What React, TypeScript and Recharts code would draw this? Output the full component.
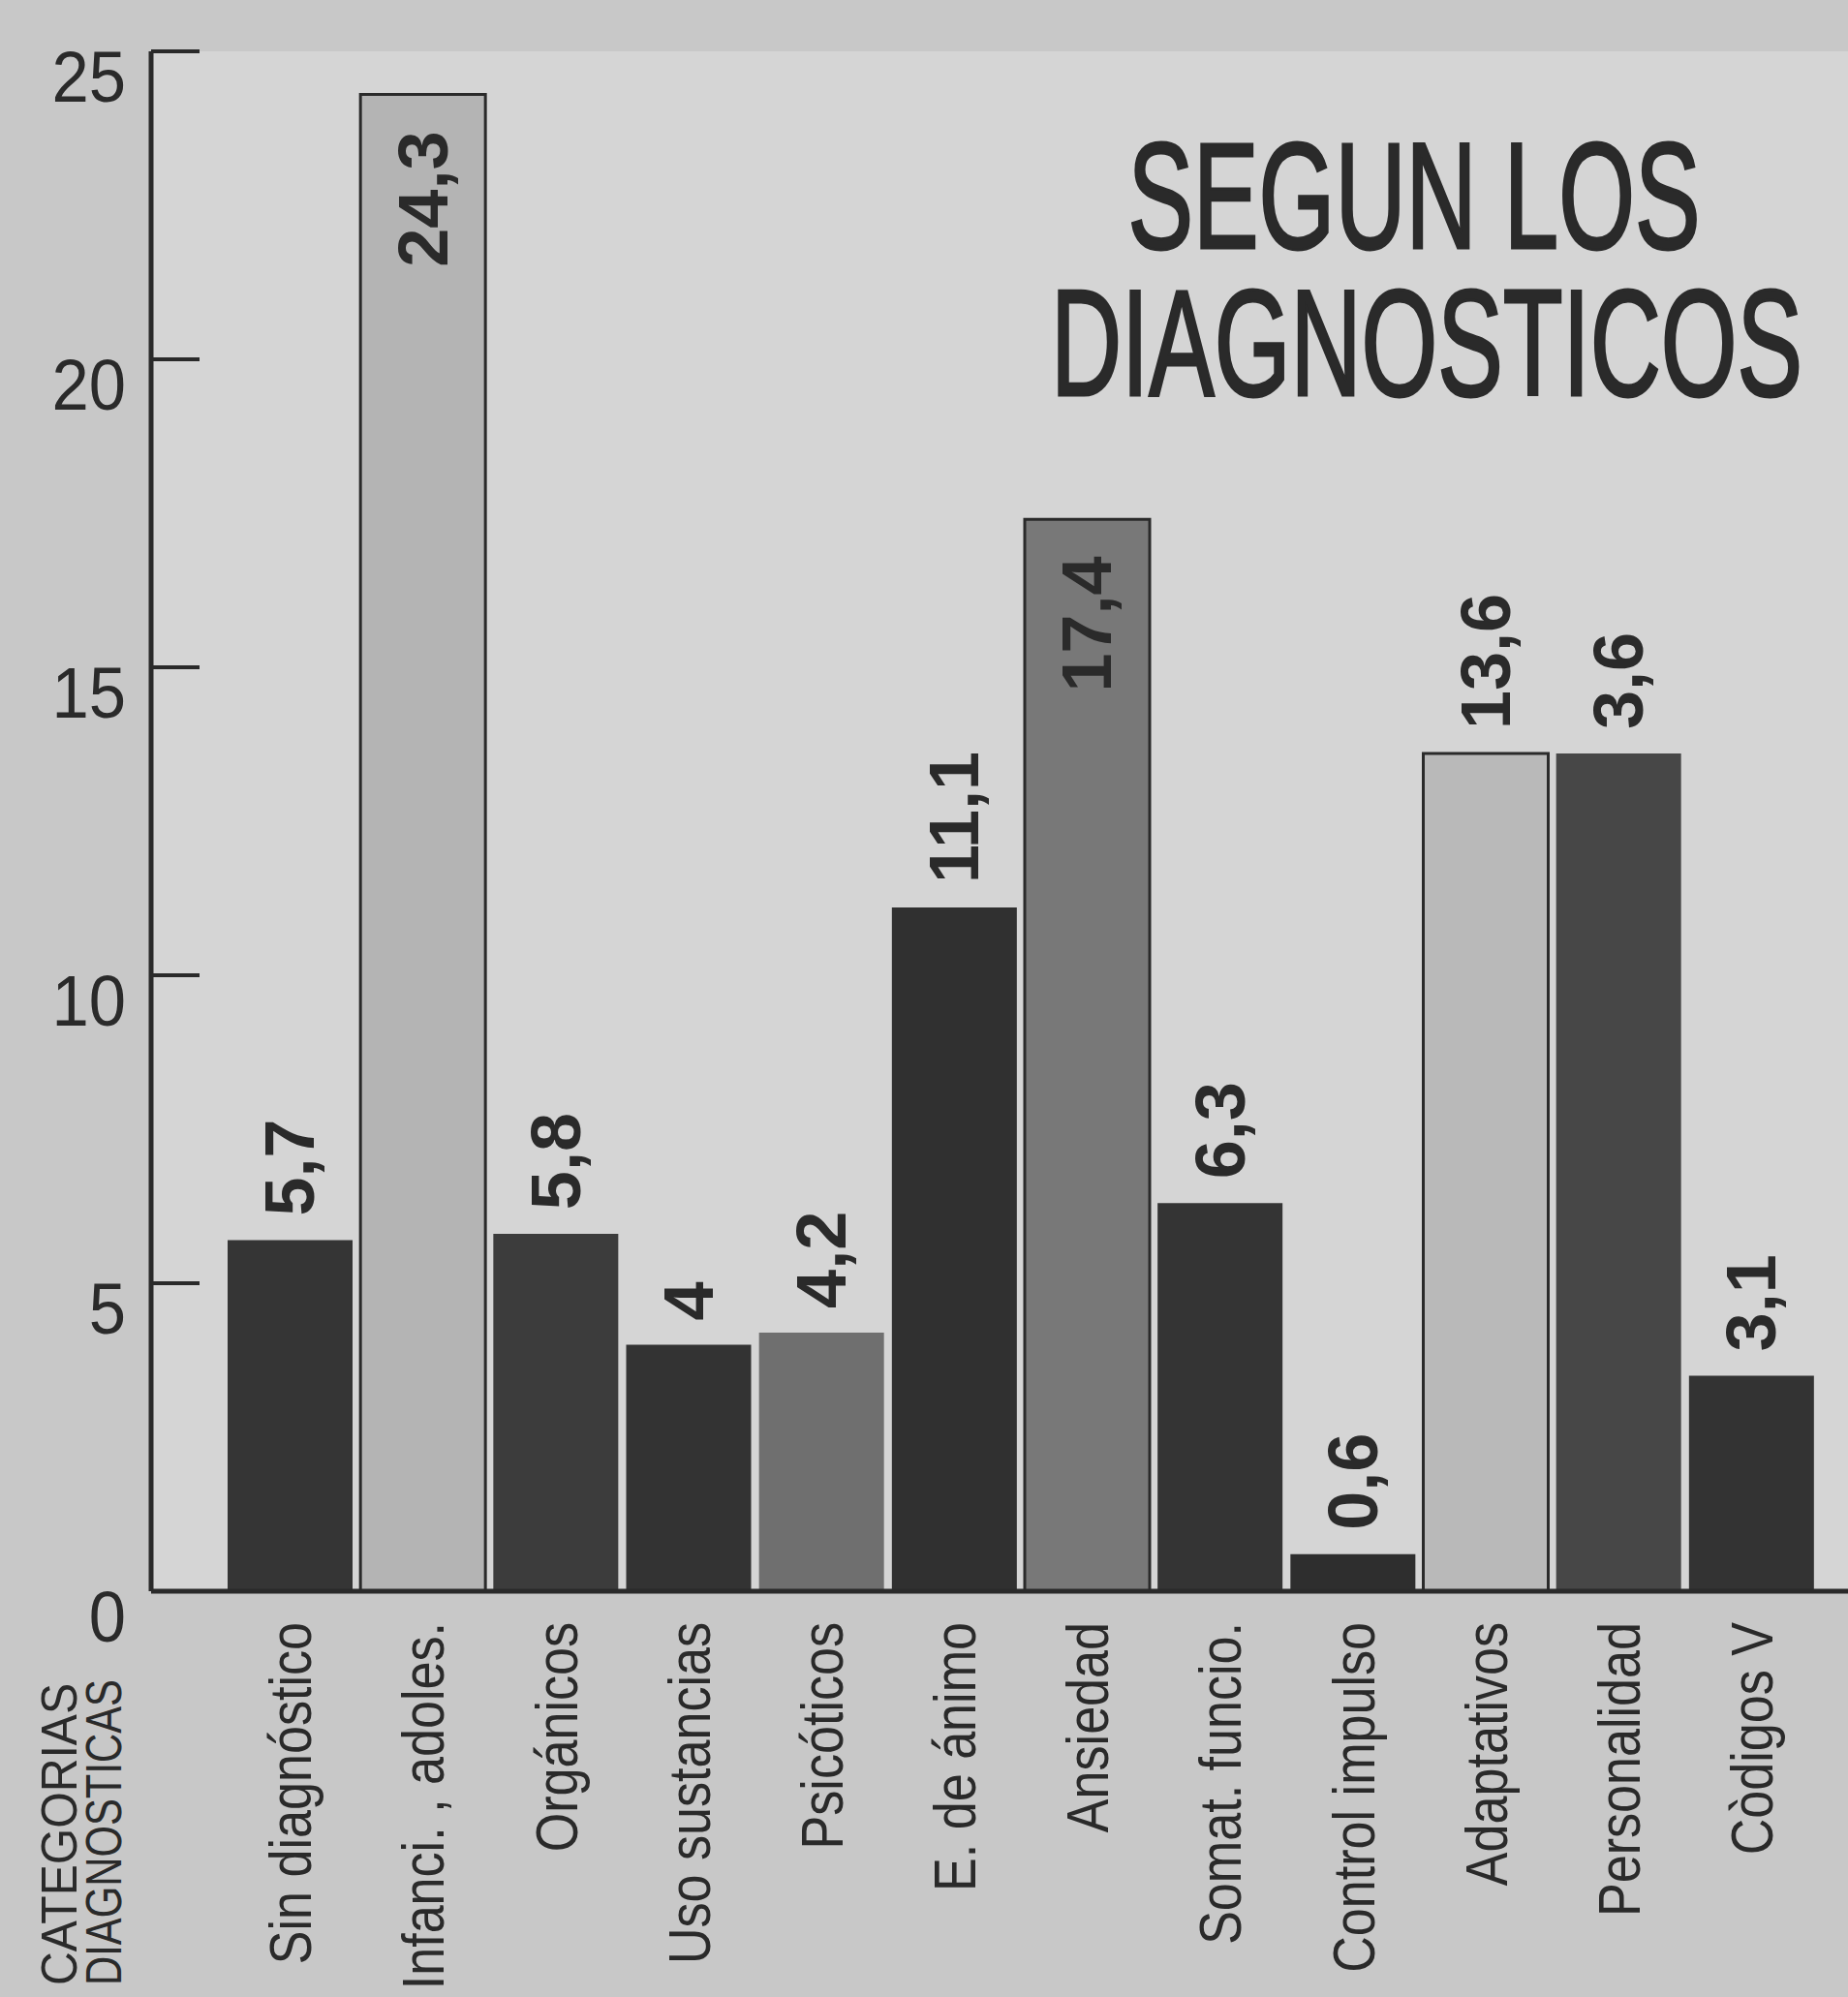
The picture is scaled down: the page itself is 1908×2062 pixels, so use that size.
import { Bar, BarChart, CartesianGrid, Cell, LabelList, XAxis, YAxis } from "recharts";

const W = 1908;
const H = 2062;
const INK = "#2a2a2a";
const SANS = "'Liberation Sans', Arial, sans-serif";

const CATEGORIES = [
  "Sin diagnóstico", "Infanci. , adoles.", "Orgánicos", "Uso sustancias", "Psicóticos",
  "E. de ánimo", "Ansiedad", "Somat. funcio.", "Control impulso", "Adaptativos",
  "Personalidad", "Còdigos V",
];
// bar heights as drawn (the printed labels of the last two bars differ from their heights)
const VALUES = [5.7, 24.3, 5.8, 4, 4.2, 11.1, 17.4, 6.3, 0.6, 13.6, 13.6, 3.5];
const LABELS = ["5,7", "24,3", "5,8", "4", "4,2", "11,1", "17,4", "6,3", "0,6", "13,6", "3,6", "3,1"];
const FILLS = [
  "#353535", "#b4b4b4", "#3c3c3c", "#333333", "#6f6f6f", "#303030",
  "#787878", "#343434", "#2e2e2e", "#b9b9b9", "#474747", "#333333",
];
const OUTLINED = [false, true, false, false, false, false, true, false, false, true, false, false];
const INSIDE = [false, true, false, false, false, false, true, false, false, false, false, false];
const Y_TICKS = [0, 5, 10, 15, 20, 25];

const data = CATEGORIES.map((name, i) => ({ name, value: VALUES[i], label: LABELS[i] }));

// no condensed face installed, so the narrow newspaper type is squeezed with scale()
function YTick(props: any) {
  const { x, y, payload } = props;
  const v = payload.value;
  return (
    <g>
      {v > 0 && <line x1={x} x2={x + 50} y1={y} y2={y} stroke={INK} strokeWidth={4} />}
      <text transform={`translate(${x - 26} ${y + 52}) scale(0.93 1)`} textAnchor="end"
            fontFamily={SANS} fontSize={74} fill={INK}>
        {v}
      </text>
    </g>
  );
}

function XTick(props: any) {
  const { x, y, payload } = props;
  return (
    <text transform={`translate(${x} ${y + 32}) rotate(-90) scale(0.84 1)`} textAnchor="end"
          dominantBaseline="central" fontFamily={SANS} fontSize={62} fill={INK}>
      {payload.value}
    </text>
  );
}

function ValueLabel(props: any) {
  const { x, y, width, index, value } = props;
  const cx = x + width / 2;
  const inside = INSIDE[index];
  const ty = inside ? y + 38 : y - 25;
  return (
    <text x={cx} y={ty} transform={`rotate(-90 ${cx} ${ty})`} textAnchor={inside ? "end" : "start"}
          dominantBaseline="central" fontFamily={SANS} fontWeight="bold" fontSize={72} fill={INK}>
      {value}
    </text>
  );
}

export default function App() {
  return (
    <div style={{ position: "relative", width: W, height: H, background: "#c8c8c8", overflow: "hidden" }}>
      <style>{"body{margin:0}"}</style>
      <BarChart width={W} height={H} data={data} barCategoryGap={4}
                margin={{ top: 53, right: 0, bottom: 0, left: 0 }}>
        <CartesianGrid fill="#d5d5d5" stroke="none" horizontal={false} vertical={false} />
        <XAxis dataKey="name" interval={0} padding={{ left: 75, right: 31 }}
               axisLine={{ stroke: INK, strokeWidth: 5 }} tickLine={false} tickSize={0} tickMargin={0}
               tick={XTick} height={H - 1643} />
        <YAxis domain={[0, 25]} ticks={Y_TICKS} width={156} interval={0}
               axisLine={{ stroke: INK, strokeWidth: 5 }} tickLine={false} tickSize={0} tickMargin={0}
               tick={YTick} />
        <Bar dataKey="value" isAnimationActive={false}>
          {data.map((d, i) => (
            <Cell key={d.name} fill={FILLS[i]} stroke={OUTLINED[i] ? INK : "none"} strokeWidth={OUTLINED[i] ? 3 : 0} />
          ))}
          <LabelList dataKey="label" content={ValueLabel} />
        </Bar>
      </BarChart>
      <svg width={W} height={H} style={{ position: "absolute", left: 0, top: 0, pointerEvents: "none" }}>
        <text x={1460} y={256} textAnchor="middle" fontFamily={SANS} fontSize={155} fill={INK}
              stroke={INK} strokeWidth={3} textLength={591} lengthAdjust="spacingAndGlyphs">SEGUN LOS</text>
        <text x={1473} y={408} textAnchor="middle" fontFamily={SANS} fontSize={155} fill={INK}
              stroke={INK} strokeWidth={3} textLength={776} lengthAdjust="spacingAndGlyphs">DIAGNOSTICOS</text>
        <text x={79} y={2050} transform="rotate(-90 79 2050)" fontFamily={SANS}
              fontSize={52} fill={INK} textLength={312} lengthAdjust="spacingAndGlyphs">CATEGORIAS</text>
        <text x={125} y={2050} transform="rotate(-90 125 2050)" fontFamily={SANS}
              fontSize={52} fill={INK} textLength={316} lengthAdjust="spacingAndGlyphs">DIAGNOSTICAS</text>
      </svg>
    </div>
  );
}
